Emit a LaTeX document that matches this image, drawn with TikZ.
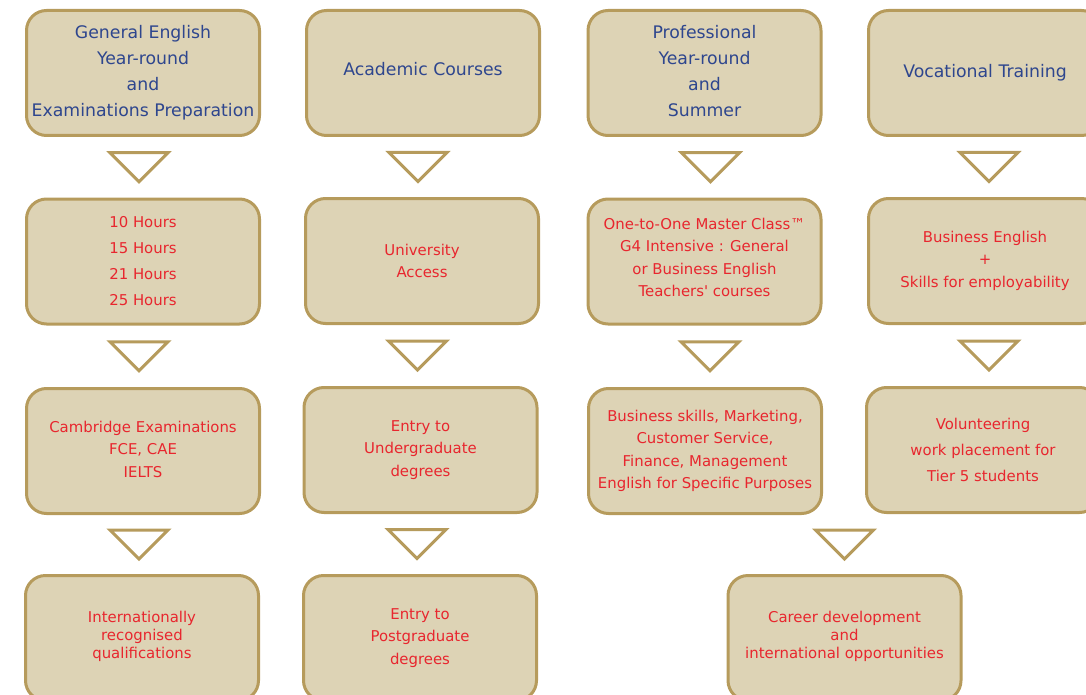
\documentclass[tikz,border=0pt]{standalone}
\usepackage{fontspec}
\setmainfont{DejaVu Sans}[Ligatures=TeXOff]
\usetikzlibrary{calc}
\definecolor{boxfill}{HTML}{DDD3B5}
\definecolor{boxline}{HTML}{B69B5C}
\definecolor{headblue}{HTML}{2E468E}
\definecolor{itemred}{HTML}{E8262E}
% triangle between two boxes, x taken from the lower box (plus a shift)
\newcommand{\downtri}[3][0]{%
  \path ($(#2.south)!0.5!(#3.north)$) coordinate (mid);
  \path ([xshift=#1pt]#3.north |- mid) coordinate (m);
  \draw[tri] ($(m)+(-29,-14.5)$) -- ($(m)+(29,-14.5)$) -- ($(m)+(0,14.5)$) -- cycle;}
\begin{document}
\begin{tikzpicture}[x=1pt,y=-1pt,
    box/.style = {draw=boxline, fill=boxfill, line width=3pt, rounded corners=20pt,
                  minimum width=233pt, minimum height=125pt, align=center, inner sep=0pt},
    head/.style = {box, text=headblue, font=\fontsize{17.3}{26}\selectfont},
    item/.style = {box, text=itemred, font=\fontsize{14.9}{22.4}\selectfont},
    tri/.style = {draw=boxline, fill=white, line width=3pt, line join=miter}]
\useasboundingbox (0,0) rectangle (1086,695);
\clip (0,0) rectangle (1086,695);

% top row
\node[head] (gen) at (143,73) {General English\\Year-round\\and\\Examinations Preparation};
\node[head] (acad) at (423,73) {Academic Courses\\[-18pt]};
\node[head] (prof) at (704.5,73) {Professional\\Year-round\\and\\Summer\\[-22pt]};
\node[head] (voc) at (985,73) {Vocational Training};

% second row
\node[item, font=\fontsize{14.9}{26}\selectfont] (hours) at (143,261.5) {10 Hours\\15 Hours\\21 Hours\\25 Hours};
\node[item] (univ) at (422,261) {University\\Access};
\node[item] (master) at (704.5,261.5) {One-to-One Master Class™\\G4 Intensive : General\\or Business English\\Teachers' courses\\[-14pt]};
\node[item] (busen) at (985,261) {Business English\\+\\Skills for employability\\[-19pt]};

% third row
\node[item] (camb) at (143,451) {Cambridge Examinations\\FCE, CAE\\IELTS\\[-19pt]};
\node[item] (under) at (420.5,450) {Entry to\\Undergraduate\\degrees\\[-19pt]};
\node[item] (skills) at (705,451) {Business skills, Marketing,\\Customer Service,\\Finance, Management\\English for Specific Purposes\\[-19pt]};
\node[item, font=\fontsize{14.9}{26}\selectfont] (volun) at (983,450) {Volunteering\\work placement for\\Tier 5 students};

% bottom row
\node[item, font=\fontsize{14.9}{18}\selectfont] (quali) at (142,638) {Internationally\\recognised\\qualifications\\[-12pt]};
\node[item] (post) at (420,638) {Entry to\\Postgraduate\\degrees\\[-19pt]};
\node[item, font=\fontsize{14.9}{18}\selectfont] (career) at (844.5,638) {Career development\\and\\international opportunities\\[-12pt]};

% triangles
\downtri[-4]{gen}{hours}
\downtri[-4]{acad}{univ}
\downtri[6]{prof}{master}
\downtri[4]{voc}{busen}
\downtri[-4]{hours}{camb}
\downtri[-3]{univ}{under}
\downtri[5]{master}{skills}
\downtri[6]{busen}{volun}
\downtri[-3]{camb}{quali}
\downtri[-3]{under}{post}
\downtri{skills}{career}
\end{tikzpicture}
\end{document}
